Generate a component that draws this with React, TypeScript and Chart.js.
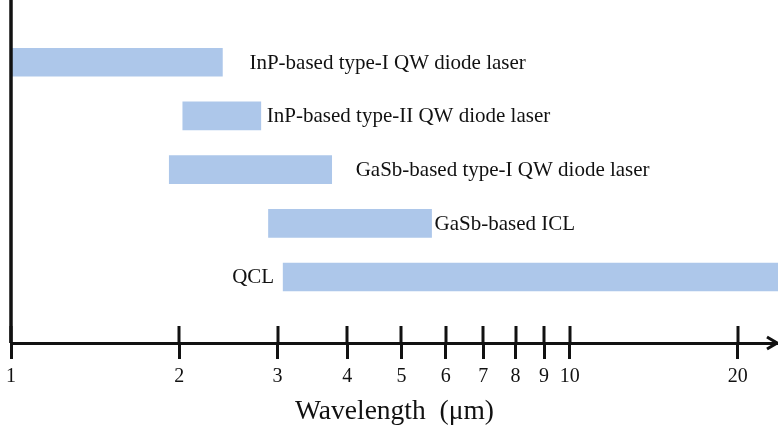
import { useEffect, useRef } from 'react';
import { Chart, registerables } from 'chart.js';

Chart.register(...registerables);

// Laser families and the wavelength span (µm) each one covers
const lasers = [
  'InP-based type-I QW diode laser',
  'InP-based type-II QW diode laser',
  'GaSb-based type-I QW diode laser',
  'GaSb-based ICL',
  'QCL',
];
const rangeStart = [1.0, 2.03, 1.92, 2.89, 3.07];
const rangeEnd = [2.39, 2.8, 3.75, 5.66, 25];
const labelSide = ['right', 'right', 'right', 'right', 'left'];

// Wavelength axis ticks
const tickValues = [1, 2, 3, 4, 5, 6, 7, 8, 9, 10, 20];
const tickLabels = ['1', '2', '3', '4', '5', '6', '7', '8', '9', '10', '20'];

const SERIF = '"Liberation Serif", "Times New Roman", serif';
const INK = '#111111';
const BAR_FILL = '#adc7ea';
const LABEL_GAP = [27, 6, 24, 3, 9];

const decorations = {
  id: 'decorations',
  afterDraw(chart: any) {
    const { ctx, chartArea } = chart;
    const xs = chart.scales.x;
    const ys = chart.scales.y;
    const base = xs.top;
    ctx.save();
    ctx.strokeStyle = INK;
    ctx.lineCap = 'butt';

    // vertical axis line
    ctx.lineWidth = 3.5;
    ctx.beginPath();
    ctx.moveTo(chartArea.left, 0);
    ctx.lineTo(chartArea.left, base);
    ctx.stroke();

    // tick marks also rise above the axis
    ctx.lineWidth = 3;
    tickValues.forEach((v) => {
      const px = Math.round(xs.getPixelForValue(v));
      ctx.beginPath();
      ctx.moveTo(px, base - 17);
      ctx.lineTo(px, base);
      ctx.stroke();
    });

    // arrow head at the end of the wavelength axis
    const tip = chart.width - 1;
    ctx.lineWidth = 3;
    ctx.lineJoin = 'miter';
    ctx.beginPath();
    ctx.moveTo(tip - 10, base - 6);
    ctx.lineTo(tip, base);
    ctx.lineTo(tip - 10, base + 6);
    ctx.stroke();

    // row labels next to the bars
    ctx.fillStyle = INK;
    ctx.font = `21px ${SERIF}`;
    ctx.textBaseline = 'middle';
    lasers.forEach((name, i) => {
      const yc = ys.getPixelForValue(i) + 1;
      if (labelSide[i] === 'right') {
        ctx.textAlign = 'left';
        ctx.fillText(name, xs.getPixelForValue(rangeEnd[i]) + LABEL_GAP[i], yc);
      } else {
        ctx.textAlign = 'right';
        ctx.fillText(name, xs.getPixelForValue(rangeStart[i]) - LABEL_GAP[i], yc);
      }
    });
    ctx.restore();
  },
};

export default function App() {
  const ref = useRef<HTMLCanvasElement>(null);

  useEffect(() => {
    Chart.defaults.font.family = SERIF;
    const chart = new Chart(ref.current!, {
      type: 'bar',
      data: {
        datasets: [
          {
            data: lasers.map((_, i) => ({ x: [rangeStart[i], rangeEnd[i]], y: i })) as any,
            backgroundColor: BAR_FILL,
            borderWidth: 0,
            barThickness: 28,
          },
        ],
      },
      options: {
        indexAxis: 'y',
        animation: false,
        responsive: false,
        layout: { padding: { left: 10, right: 0, top: 0, bottom: 0 } },
        plugins: { legend: { display: false }, tooltip: { enabled: false } },
        scales: {
          y: {
            type: 'linear',
            display: false,
            reverse: true,
            offset: false,
            min: -1.16,
            max: 5.23,
          },
          x: {
            type: 'logarithmic',
            min: 1,
            max: 23.6,
            afterBuildTicks: (scale: any) => {
              scale.ticks = tickValues.map((v) => ({ value: v }));
            },
            border: { display: true, color: INK, width: 3 },
            grid: {
              display: true,
              drawOnChartArea: false,
              drawTicks: true,
              tickLength: 16,
              tickWidth: 3,
              tickColor: INK,
            },
            ticks: {
              autoSkip: false,
              maxRotation: 0,
              padding: 6,
              color: INK,
              font: { size: 20, family: SERIF },
              callback: (_v: any, i: number) => tickLabels[i],
            },
            title: {
              display: true,
              text: 'Wavelength  (\u03bcm)',
              color: INK,
              font: { size: 27.5, family: SERIF },
              padding: { top: 0, bottom: 0 },
            },
          },
        },
      },
      plugins: [decorations],
    });
    return () => chart.destroy();
  }, []);

  return (
    <div style={{ position: 'fixed', left: 0, top: 0, width: 778, height: 428, background: '#ffffff' }}>
      <canvas ref={ref} width={778} height={428} style={{ width: 778, height: 428, display: 'block' }} />
    </div>
  );
}
